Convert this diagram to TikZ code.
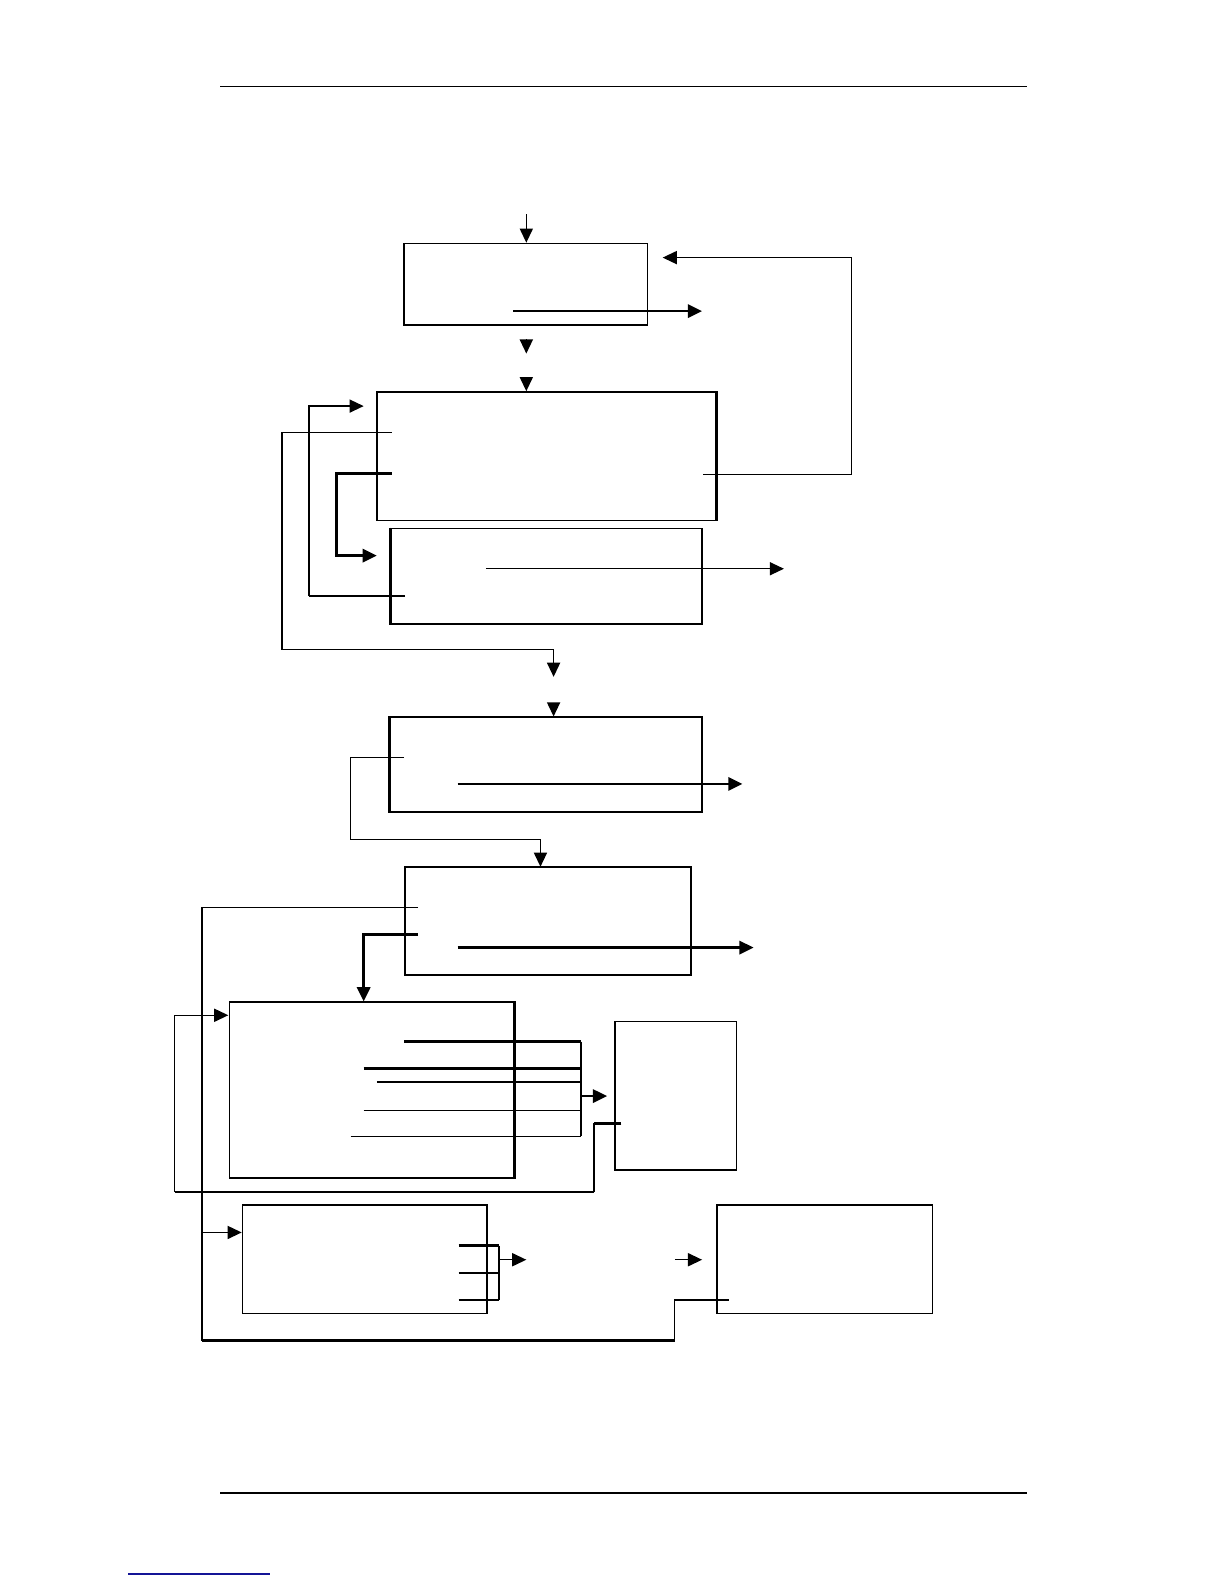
\documentclass[tikz,border=0pt]{standalone}
\usepackage{tikz}
\usetikzlibrary{arrows.meta,calc,positioning}
\usepackage{xcolor}
\definecolor{linkblu}{RGB}{20,20,150}

\begin{document}
\begin{tikzpicture}[x=1pt,y=-1pt,
  blocco/.style 2 args={draw, line width=1.5pt, inner sep=0pt, minimum width=#1, minimum height=#2},
  bordo/.style={line width=2.5pt},
  sottile/.style={line width=1.3pt},
  spesso/.style={line width=2.6pt},
  freccia/.style={-{Triangle[length=14pt,width=13pt]}}]
\useasboundingbox (0,0) rectangle (1212,1568);
% Righe di intestazione e pie' di pagina
\coordinate (hdA) at (218,86);   \coordinate (hdB) at (1017,86);
\coordinate (ftA) at (218,1478); \coordinate (ftB) at (1017,1478);
\coordinate (lkA) at (127,1558); \coordinate (lkB) at (267,1558);
\draw[line width=1.2pt] (hdA) -- (hdB);
\draw[line width=1.2pt] (ftA) -- (ftB);
\draw[line width=1.2pt, linkblu] (lkA) -- (lkB);
% Blocchi
\node[blocco={241pt}{80pt}]  (inbox)   at (520.5,281) {};
\node[blocco={336pt}{127pt}] (mainbox) at (541,451.5) {};
\node[blocco={308pt}{94pt}]  (subbox)  at (541,570) {};
\node[blocco={309pt}{94pt}]  (midbox)  at (540.5,757) {};
\node[blocco={283pt}{107pt}] (decbox)  at (542.5,911.5) {};
\node[blocco={282pt}{174pt}] (bigbox)  at (368,1079) {};
\node[blocco={120pt}{147pt}] (sidebox) at (669,1084.5) {};
\node[blocco={242pt}{107pt}] (lowbox)  at (361,1246.5) {};
\node[blocco={213pt}{107pt}] (outbox)  at (816.5,1246.5) {};
% Bordi piu' spessi
\draw[bordo] (inbox.south west) -- (inbox.south east);
\draw[bordo] (mainbox.north east) -- (mainbox.south east);
\draw[bordo] (subbox.north west) -- (subbox.south west) -- (subbox.south east);
\draw[bordo] (midbox.north west) -- (midbox.south west);
\draw[bordo] (bigbox.north east) -- (bigbox.south east);
% Ingresso e primo blocco
\coordinate (ing) at (521,212);
\draw[sottile, freccia] (ing) -- (ing |- inbox.north);
\coordinate (u1) at (508,308); \coordinate (u1e) at (695,308);
\draw[spesso, freccia] (u1) -- (u1e);
\draw[sottile, freccia] (521,336) -- (521,350);
\draw[sottile, freccia] (521,375) -- (ing |- mainbox.north);
% Ritorno a destra
\coordinate (rt) at (696,470); \coordinate (rtE) at (656,255);
\draw[sottile, freccia] (rt) -- (843,470) -- (843,255) -- (rtE);
% Collegamenti a sinistra del blocco principale
\coordinate (la) at (388,428); \coordinate (laE) at (548,670);
\draw[sottile, freccia] (la) -- (279,428) -- (279,643) -- (548,643) -- (laE);
\draw[sottile, freccia] (548,697) -- (laE |- midbox.north);
\coordinate (lb) at (388,469); \coordinate (lbE) at (373,550);
\draw[spesso, freccia] (lb) -- (333,469) |- (lbE);
\coordinate (lc) at (401,590); \coordinate (lcE) at (360,402);
\draw[spesso] (lc) -- (306,590);
\draw[sottile, freccia] (306,590) |- (lcE);
\coordinate (u2) at (481,563); \coordinate (u2e) at (776,563);
\draw[sottile, freccia] (u2) -- (u2e);
% Blocco centrale
\coordinate (m1) at (400,750); \coordinate (m1E) at (535,858);
\draw[sottile, freccia] (m1) -- (347,750) -- (347,831) -- (535,831) -- (m1E);
\coordinate (u3) at (453,776); \coordinate (u3e) at (735,776);
\draw[spesso, freccia] (u3) -- (u3e);
% Blocco di decisione
\coordinate (d1) at (414,898); \coordinate (d1E) at (722,1287);
\coordinate (d1r) at (200,1220);
\draw[sottile] (d1) -- (200,898) -- (200,1327);
\draw[spesso] (200,1327) -- (668,1327);
\draw[sottile] (668,1327) -- (668,1287) -- (d1E);
\draw[sottile, freccia] (d1r) -- (d1r -| lowbox.west);
\coordinate (d2) at (414,925); \coordinate (d2g) at (360,925);
\draw[spesso, freccia] (d2) -- (d2g) -- (d2g |- bigbox.north);
\coordinate (u4) at (453,938); \coordinate (u4e) at (746,938);
\draw[spesso, freccia] (u4) -- (u4e);
% Uscite del blocco grande
\draw[spesso]  (400,1031) -- (575,1031);
\draw[spesso]  (360,1058) -- (575,1058);
\draw[sottile] (373,1071) -- (575,1071);
\draw[sottile] (360,1099) -- (575,1099);
\draw[sottile] (347,1125) -- (575,1125);
\draw[sottile] (575,1031) -- (575,1125);
\coordinate (bs) at (575,1085); \coordinate (bsE) at (601,1085);
\draw[spesso, freccia] (bs) -- (bsE);
% Anello di ritorno
\coordinate (s1) at (615,1112); \coordinate (s1E) at (226,1005);
\draw[spesso] (s1) -- (588,1112);
\draw[sottile] (588,1112) -- (588,1180);
\draw[spesso] (588,1180) -- (173,1180);
\draw[sottile, freccia] (173,1180) |- (s1E);
% Uscite del blocco basso
\draw[spesso]  (454,1233) -- (494,1233);
\draw[spesso]  (454,1260) -- (494,1260);
\draw[sottile] (454,1287) -- (494,1287);
\draw[sottile] (494,1233) -- (494,1287);
\coordinate (lo) at (494,1247); \coordinate (loE) at (521,1247);
\draw[sottile, freccia] (lo) -- (loE);
\coordinate (oi) at (668,1247); \coordinate (oiE) at (695,1247);
\draw[sottile, freccia] (oi) -- (oiE);
\end{tikzpicture}
\end{document}
